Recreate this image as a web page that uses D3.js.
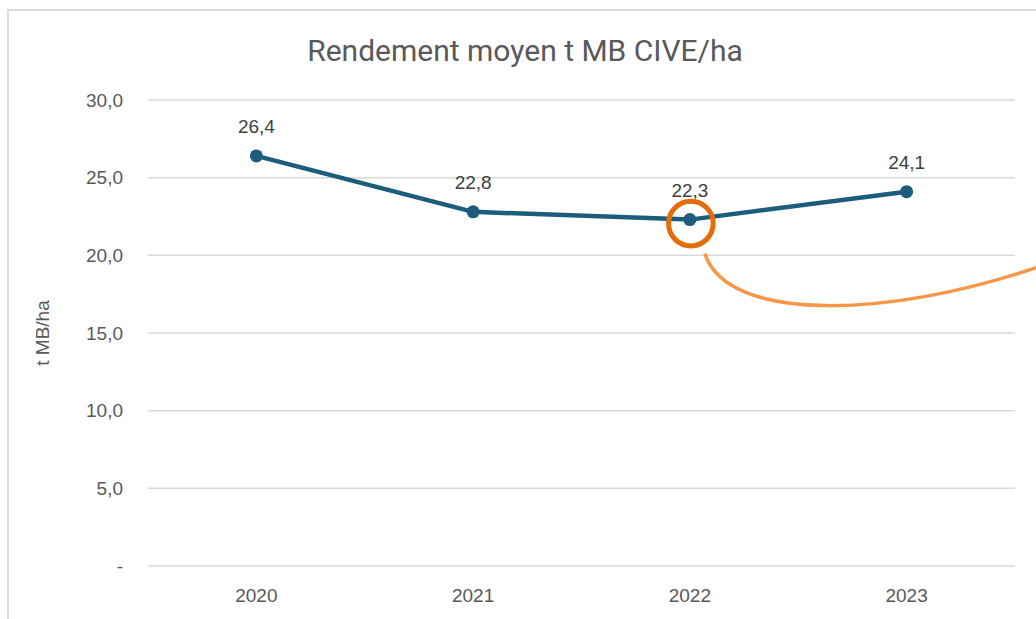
<!DOCTYPE html>
<html>
<head>
<meta charset="utf-8">
<script src="https://cdn.jsdelivr.net/npm/d3@7"></script>
<style>
  body { margin: 0; background: #fff; }
  svg { display: block; }
</style>
</head>
<body>
<svg width="1036" height="619"></svg>
<script>
const years = ["2020", "2021", "2022", "2023"];
const rendement = [26.4, 22.8, 22.3, 24.1];
const yTicks = [0, 5, 10, 15, 20, 25, 30];
const highlightYear = "2022";

const svg = d3.select("svg");
const W = 1036, H = 619;
const plotL = 148, plotR = 1015, plotT = 100, plotB = 566;
const labelFont = "'Liberation Sans', Arial, sans-serif";

// chart area frame (light gray, open on right)
svg.append("path")
    .attr("d", "M8,619 L8,10 L1036,10")
    .attr("fill", "none")
    .attr("stroke", "#d9d9d9")
    .attr("stroke-width", 2);

svg.append("text")
    .attr("x", 525).attr("y", 61)
    .attr("text-anchor", "middle")
    .attr("font-family", "Roboto, 'Open Sans', sans-serif")
    .attr("font-size", 30)
    .attr("fill", "#595959")
    .text("Rendement moyen t MB CIVE/ha");

const x = d3.scaleBand().domain(years).range([plotL, plotR]);
const y = d3.scaleLinear().domain([0, 30]).range([plotB, plotT]);

const fmt = v => v === 0 ? "-" : d3.format(".1f")(v).replace(".", ",");

// gridlines
svg.append("g").selectAll("line")
    .data(yTicks)
    .enter().append("line")
    .attr("x1", plotL).attr("x2", plotR)
    .attr("y1", d => y(d)).attr("y2", d => y(d))
    .attr("stroke", "#d9d9d9")
    .attr("stroke-width", 1.5);

// y axis labels
const yAxis = svg.append("g")
    .attr("transform", `translate(${plotL - 22},0)`)
    .call(d3.axisLeft(y).tickValues(yTicks).tickFormat(fmt).tickSize(0));
yAxis.select(".domain").remove();
yAxis.selectAll("text")
    .attr("font-family", labelFont)
    .attr("font-size", 19)
    .attr("fill", "#595959");

// x axis labels
const xAxis = svg.append("g")
    .attr("transform", `translate(0,${plotB + 19})`)
    .call(d3.axisBottom(x).tickSize(0));
xAxis.select(".domain").remove();
xAxis.selectAll("text")
    .attr("font-family", labelFont)
    .attr("font-size", 19)
    .attr("fill", "#595959");

svg.append("text")
    .attr("transform", `translate(49,${(plotT + plotB) / 2}) rotate(-90)`)
    .attr("text-anchor", "middle")
    .attr("font-family", labelFont)
    .attr("font-size", 19)
    .attr("fill", "#595959")
    .text("t MB/ha");

const cx = (d, i) => x(years[i]) + x.bandwidth() / 2;

const line = d3.line()
    .x((d, i) => cx(d, i))
    .y(d => y(d));

svg.append("path")
    .datum(rendement)
    .attr("d", line)
    .attr("fill", "none")
    .attr("stroke", "#1c5d7c")
    .attr("stroke-width", 4.5)
    .attr("stroke-linejoin", "round");

svg.append("g").selectAll("circle")
    .data(rendement)
    .enter().append("circle")
    .attr("cx", cx)
    .attr("cy", d => y(d))
    .attr("r", 6.5)
    .attr("fill", "#1c5d7c");

svg.append("g").selectAll("text")
    .data(rendement)
    .enter().append("text")
    .attr("x", cx)
    .attr("y", d => y(d) - 23)
    .attr("text-anchor", "middle")
    .attr("font-family", labelFont)
    .attr("font-size", 19)
    .attr("fill", "#404040")
    .text(d => fmt(d));

// annotation: orange circle + connector
const hi = years.indexOf(highlightYear);
const hx = cx(null, hi), hy = y(rendement[hi]);
svg.append("circle")
    .attr("cx", hx + 1).attr("cy", hy + 4)
    .attr("r", 22.3)
    .attr("fill", "none")
    .attr("stroke", "#e46c0a")
    .attr("stroke-width", 5);

svg.append("path")
    .attr("d", `M${hx + 15},${hy + 34} C${hx + 38},${hy + 104} ${hx + 200},${hy + 98} ${W},${hy + 48}`)
    .attr("fill", "none")
    .attr("stroke", "#f79646")
    .attr("stroke-width", 3.5);
</script>
</body>
</html>
